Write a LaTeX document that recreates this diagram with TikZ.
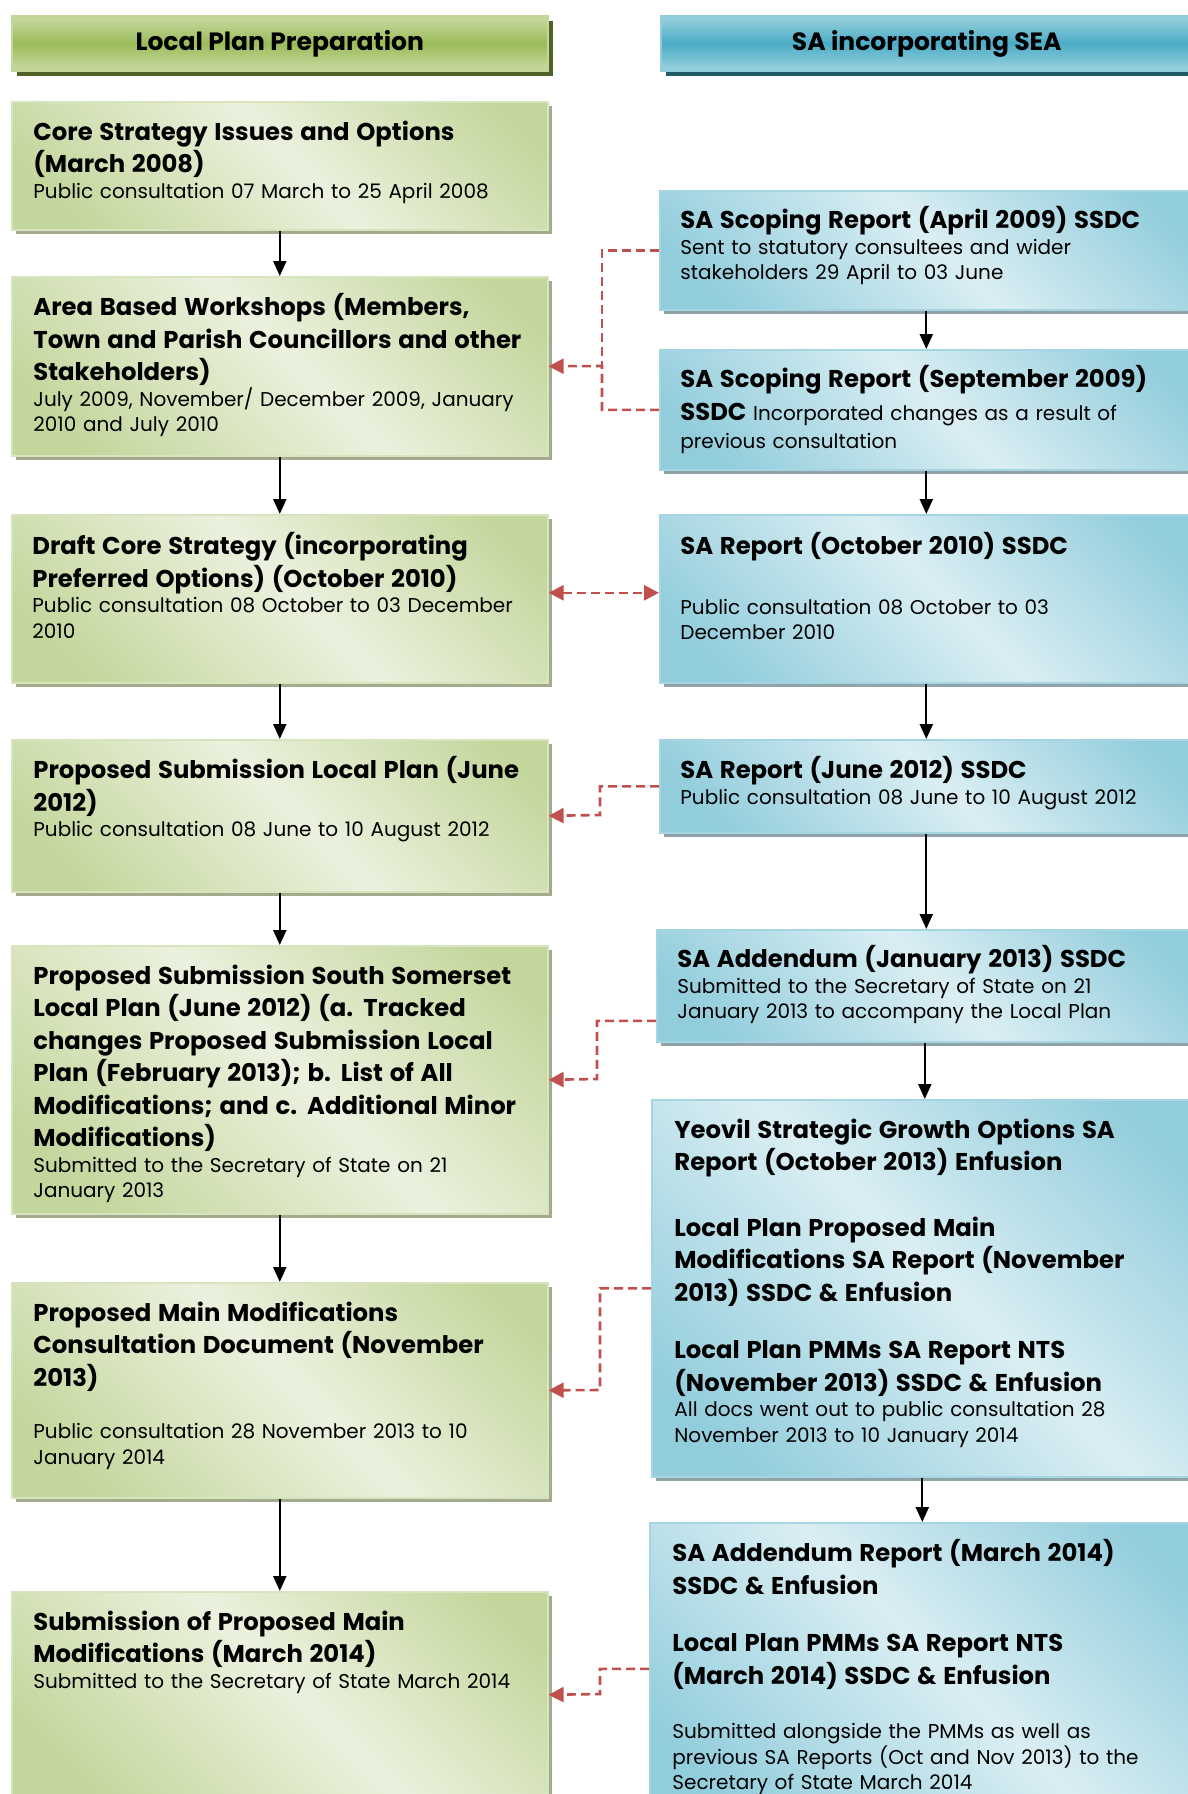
\documentclass[tikz,border=0pt]{standalone}
\usepackage{fontspec}
\setmainfont{Poppins}
\usetikzlibrary{arrows.meta,shadows,calc}
\definecolor{gD}{HTML}{C3D69B}
\definecolor{gL}{HTML}{EBF1DE}
\definecolor{gB}{HTML}{D7E4BD}
\definecolor{gS}{HTML}{A4AB8C}
\definecolor{gHL}{HTML}{C4D79B}
\definecolor{gHM}{HTML}{9BBB59}
\definecolor{gHS}{HTML}{4F6228}
\definecolor{bD}{HTML}{92CDDC}
\definecolor{bL}{HTML}{DAEEF3}
\definecolor{bB}{HTML}{A5D5E2}
\definecolor{bS}{HTML}{8FA3A8}
\definecolor{bHL}{HTML}{92CDDC}
\definecolor{bHM}{HTML}{4BACC6}
\definecolor{bHS}{HTML}{215968}
\definecolor{rd}{HTML}{C0504D}
\pgfdeclarehorizontalshading{gboxsh}{100bp}{color(0bp)=(gD); color(22bp)=(gD); color(52bp)=(gL); color(80bp)=(gD); color(100bp)=(gD)}
\pgfdeclarehorizontalshading{bboxsh}{100bp}{color(0bp)=(bD); color(22bp)=(bD); color(52bp)=(bL); color(80bp)=(bD); color(100bp)=(bD)}
\pgfdeclareverticalshading{gheadsh}{100bp}{color(0bp)=(gHL); color(28bp)=(gHL); color(50bp)=(gHM); color(72bp)=(gHL); color(100bp)=(gHL)}
\pgfdeclareverticalshading{bheadsh}{100bp}{color(0bp)=(bHL); color(28bp)=(bHL); color(50bp)=(bHM); color(72bp)=(bHL); color(100bp)=(bHL)}
\newcommand\BoldT[1]{{\fontsize{12.15pt}{16.25pt}\selectfont\bfseries\rule{0pt}{11pt}#1\par}}
\newcommand\NormT[1]{{\fontsize{10pt}{12.75pt}\selectfont #1\par}}
\newcommand\mkbox[6]{\node[#6, minimum width={(#4-#2)*0.5pt}, minimum height={(#5-#3)*0.5pt}] (#1) at (#2,#3) {};}
\tikzset{
  gbox/.style={draw=gB, line width=0.8pt, shading=gboxsh, shading angle=45, anchor=north west, inner sep=0pt,
    general shadow={shadow xshift=2pt, shadow yshift=-2pt, fill=gS, draw=none}},
  bbox/.style={draw=bB, line width=0.8pt, shading=bboxsh, shading angle=45, anchor=north west, inner sep=0pt,
    general shadow={shadow xshift=2pt, shadow yshift=-2pt, fill=bS, draw=none}},
  ghead/.style={draw=gHL, line width=0.8pt, shading=gheadsh, anchor=north west, inner sep=0pt,
    general shadow={shadow xshift=2.6pt, shadow yshift=-2.6pt, fill=gHS, draw=none}},
  bhead/.style={draw=bHL, line width=0.8pt, shading=bheadsh, anchor=north west, inner sep=0pt,
    general shadow={shadow xshift=2.6pt, shadow yshift=-2.6pt, fill=bHS, draw=none}},
  headtxt/.style={font=\fontsize{12.5pt}{15pt}\selectfont\bfseries, inner sep=0pt},
  txt/.style={anchor=north west, inner sep=0pt, align=left, text width=#1},
  arr/.style={-{Triangle[length=7.5pt,width=6.5pt]}, line width=1.1pt, black},
  rdash/.style={rd, line width=1.3pt, dash pattern=on 4.5pt off 2.5pt},
  rtip/.style={-{Triangle[length=7.5pt,width=7.5pt]}},
}
\begin{document}
\begin{tikzpicture}[x=0.5pt,y=-0.5pt]
\useasboundingbox (0,0) rectangle (1188,1794);
\clip (0,0) rectangle (1188,1794);
% headers
\mkbox{lh}{11}{15}{547}{70}{ghead}
\mkbox{rh}{660}{15}{1192}{70}{bhead}
\node[headtxt] (lht) at ($(lh.center)+(0,1)$) {Local Plan Preparation};
\node[headtxt] (rht) at ($(rh.center)+(0,1)$) {SA incorporating SEA};
% left column
\mkbox{l1}{11}{101}{547}{229}{gbox}
\mkbox{l2}{11}{276}{547}{455}{gbox}
\mkbox{l3}{11}{514}{547}{682}{gbox}
\mkbox{l4}{11}{739}{547}{891}{gbox}
\mkbox{l5}{11}{945}{547}{1213}{gbox}
\mkbox{l6}{11}{1282}{547}{1497}{gbox}
\mkbox{l7}{11}{1591}{547}{1797}{gbox}
% right column
\mkbox{r1}{659}{190}{1192}{309}{bbox}
\mkbox{r2}{659}{349}{1192}{469}{bbox}
\mkbox{r3}{659}{514}{1192}{682}{bbox}
\mkbox{r4}{659}{739}{1192}{832}{bbox}
\mkbox{r5}{656}{929}{1192}{1041}{bbox}
\mkbox{r6}{651}{1099}{1192}{1476}{bbox}
\mkbox{r7}{649}{1522}{1192}{1814}{bbox}
% left texts
\node[txt=255pt] (l1t) at ($(l1.north west)+(22,17)$) {\BoldT{Core Strategy Issues and Options\\(March 2008)}\NormT{Public consultation 07 March to 25 April 2008}};
\node[txt=255pt] (l2t) at ($(l2.north west)+(22,17)$) {\BoldT{Area Based Workshops (Members,\\Town and Parish Councillors and other\\Stakeholders)}\NormT{July 2009, November/ December 2009, January\\2010 and July 2010}};
\node[txt=255pt] (l3t) at ($(l3.north west)+(21,18)$) {\BoldT{Draft Core Strategy (incorporating\\Preferred Options) (October 2010)}\NormT{Public consultation 08 October to 03 December\\2010}};
\node[txt=255pt] (l4t) at ($(l4.north west)+(22,17)$) {\BoldT{Proposed Submission Local Plan (June\\2012)}\NormT{Public consultation 08 June to 10 August 2012}};
\node[txt=255pt] (l5t) at ($(l5.north west)+(22,17)$) {\BoldT{Proposed Submission South Somerset\\Local Plan (June 2012) (a. Tracked\\changes Proposed Submission Local\\Plan (February 2013); b. List of All\\Modifications; and c. Additional Minor\\Modifications)}\NormT{Submitted to the Secretary of State on 21\\January 2013}};
\node[txt=255pt] (l6t) at ($(l6.north west)+(22,17)$) {\BoldT{Proposed Main Modifications\\Consultation Document (November\\2013)}\vspace{13.5pt}\NormT{Public consultation 28 November 2013 to 10\\January 2014}};
\node[txt=255pt] (l7t) at ($(l7.north west)+(22,17)$) {\BoldT{Submission of Proposed Main\\Modifications (March 2014)}\NormT{Submitted to the Secretary of State March 2014}};
% right texts
\node[txt=250pt] (r1t) at ($(r1.north west)+(21,16)$) {\BoldT{SA Scoping Report (April 2009) SSDC}\NormT{Sent to statutory consultees and wider\\stakeholders 29 April to 03 June}};
\node[txt=250pt] (r2t) at ($(r2.north west)+(21,16)$) {{\fontsize{12.15pt}{16.25pt}\selectfont\bfseries\rule{0pt}{11pt}SA Scoping Report (September 2009)\\[3.5pt]SSDC}{\fontsize{10pt}{12.75pt}\selectfont{} Incorporated changes as a result of\\[1.5pt]previous consultation\par}};
\node[txt=250pt] (r3t) at ($(r3.north west)+(21,18)$) {\BoldT{SA Report (October 2010) SSDC}\vspace{17pt}\NormT{Public consultation 08 October to 03\\December 2010}};
\node[txt=250pt] (r4t) at ($(r4.north west)+(21,17)$) {\BoldT{SA Report (June 2012) SSDC}\NormT{Public consultation 08 June to 10 August 2012}};
\node[txt=250pt] (r5t) at ($(r5.north west)+(21,16)$) {\BoldT{SA Addendum (January 2013) SSDC}\NormT{Submitted to the Secretary of State on 21\\January 2013 to accompany the Local Plan}};
\node[txt=250pt] (r6t) at ($(r6.north west)+(23,17)$) {\BoldT{Yeovil Strategic Growth Options SA\\Report (October 2013) Enfusion}\vspace{16.5pt}\BoldT{Local Plan Proposed Main\\Modifications SA Report (November\\2013) SSDC \& Enfusion}\vspace{12.5pt}\BoldT{Local Plan PMMs SA Report NTS\\(November 2013) SSDC \& Enfusion}\NormT{All docs went out to public consultation 28\\November 2013 to 10 January 2014}};
\node[txt=250pt] (r7t) at ($(r7.north west)+(23,17)$) {\BoldT{SA Addendum Report (March 2014)\\SSDC \& Enfusion}\vspace{12.5pt}\BoldT{Local Plan PMMs SA Report NTS\\(March 2014) SSDC \& Enfusion}\vspace{14.5pt}\NormT{Submitted alongside the PMMs as well as\\previous SA Reports (Oct and Nov 2013) to the\\Secretary of State March 2014}};
% black arrows
\draw[arr] (l1.south) -- (l2.north);
\draw[arr] (l2.south) -- (l3.north);
\draw[arr] (l3.south) -- (l4.north);
\draw[arr] (l4.south) -- (l5.north);
\draw[arr] (l5.south) -- (l6.north);
\draw[arr] (l6.south) -- (l7.north);
\draw[arr] (r1.south) -- (r2.north);
\draw[arr] (r2.south) -- (r3.north);
\draw[arr] (r3.south) -- (r4.north);
\draw[arr] (r4.south) -- (r4.south |- r5.north);
\draw[arr] (r5.south) -- (r5.south |- r6.north);
\draw[arr] (r6.south) -- (r6.south |- r7.north);
% red dashed connectors
\coordinate (j1) at (602,366);
\coordinate (j3) at (600,815);
\coordinate (j4) at (597,1079);
\coordinate (j5) at (600,1390);
\coordinate (j6) at (600,1694);
\draw[rdash] (r1.west) -| (j1);
\draw[rdash,rtip] (r2.west) -| (j1) -- (l2.east);
\draw[rdash,{Triangle[length=7.5pt,width=7.5pt]}-{Triangle[length=7.5pt,width=7.5pt]}] ($(l3.east)+(0,-6)$) -- ($(r3.west)+(0,-6)$);
\draw[rdash,rtip] (r4.west) -| (j3) -- (l4.east);
\draw[rdash,rtip] ($(r5.west)+(0,35)$) -| (j4) -- (l5.east);
\draw[rdash,rtip] (r6.west) -| (j5) -- (l6.east);
\draw[rdash,rtip] (r7.west) -| (j6) -- (l7.east);
\end{tikzpicture}
\end{document}
